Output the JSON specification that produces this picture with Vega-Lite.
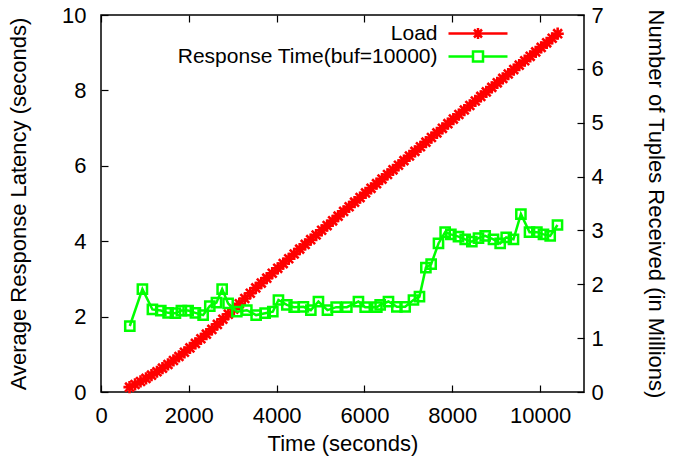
{
  "$schema": "https://vega.github.io/schema/vega-lite/v6.json",
  "width": 483,
  "height": 377,
  "autosize": "none",
  "padding": {"left": 101, "top": 15, "right": 89, "bottom": 72},
  "background": "white",
  "config": {
    "view": {"stroke": "black", "strokeWidth": 1.5},
    "font": "Liberation Sans",
    "axis": {
      "grid": false, "domain": false, "tickSize": -7, "tickColor": "black", "tickWidth": 1.2,
      "labelFontSize": 22, "titleFontSize": 22, "titleFontWeight": "normal",
      "labelColor": "black", "titleColor": "black", "labelFlush": false, "labelOverlap": false,
      "labelFont": "Liberation Sans", "titleFont": "Liberation Sans", "format": "d"
    }
  },
  "datasets": {
    "load": [
      {"time": 650, "series": "Load", "tuples": 0.09},
      {"time": 775, "series": "Load", "tuples": 0.14},
      {"time": 900, "series": "Load", "tuples": 0.195},
      {"time": 1025, "series": "Load", "tuples": 0.252},
      {"time": 1150, "series": "Load", "tuples": 0.313},
      {"time": 1275, "series": "Load", "tuples": 0.376},
      {"time": 1400, "series": "Load", "tuples": 0.442},
      {"time": 1525, "series": "Load", "tuples": 0.511},
      {"time": 1650, "series": "Load", "tuples": 0.585},
      {"time": 1775, "series": "Load", "tuples": 0.66},
      {"time": 1900, "series": "Load", "tuples": 0.738},
      {"time": 2025, "series": "Load", "tuples": 0.819},
      {"time": 2150, "series": "Load", "tuples": 0.902},
      {"time": 2275, "series": "Load", "tuples": 0.988},
      {"time": 2400, "series": "Load", "tuples": 1.074},
      {"time": 2525, "series": "Load", "tuples": 1.162},
      {"time": 2650, "series": "Load", "tuples": 1.255},
      {"time": 2775, "series": "Load", "tuples": 1.35},
      {"time": 2900, "series": "Load", "tuples": 1.445},
      {"time": 3025, "series": "Load", "tuples": 1.54},
      {"time": 3150, "series": "Load", "tuples": 1.638},
      {"time": 3275, "series": "Load", "tuples": 1.736},
      {"time": 3400, "series": "Load", "tuples": 1.834},
      {"time": 3525, "series": "Load", "tuples": 1.932},
      {"time": 3650, "series": "Load", "tuples": 2.023},
      {"time": 3775, "series": "Load", "tuples": 2.114},
      {"time": 3900, "series": "Load", "tuples": 2.205},
      {"time": 4025, "series": "Load", "tuples": 2.296},
      {"time": 4150, "series": "Load", "tuples": 2.385},
      {"time": 4275, "series": "Load", "tuples": 2.474},
      {"time": 4400, "series": "Load", "tuples": 2.563},
      {"time": 4525, "series": "Load", "tuples": 2.653},
      {"time": 4650, "series": "Load", "tuples": 2.74},
      {"time": 4775, "series": "Load", "tuples": 2.828},
      {"time": 4900, "series": "Load", "tuples": 2.915},
      {"time": 5025, "series": "Load", "tuples": 3.003},
      {"time": 5150, "series": "Load", "tuples": 3.09},
      {"time": 5275, "series": "Load", "tuples": 3.178},
      {"time": 5400, "series": "Load", "tuples": 3.265},
      {"time": 5525, "series": "Load", "tuples": 3.353},
      {"time": 5650, "series": "Load", "tuples": 3.439},
      {"time": 5775, "series": "Load", "tuples": 3.525},
      {"time": 5900, "series": "Load", "tuples": 3.61},
      {"time": 6025, "series": "Load", "tuples": 3.696},
      {"time": 6150, "series": "Load", "tuples": 3.782},
      {"time": 6275, "series": "Load", "tuples": 3.868},
      {"time": 6400, "series": "Load", "tuples": 3.953},
      {"time": 6525, "series": "Load", "tuples": 4.039},
      {"time": 6650, "series": "Load", "tuples": 4.125},
      {"time": 6775, "series": "Load", "tuples": 4.21},
      {"time": 6900, "series": "Load", "tuples": 4.296},
      {"time": 7025, "series": "Load", "tuples": 4.382},
      {"time": 7150, "series": "Load", "tuples": 4.468},
      {"time": 7275, "series": "Load", "tuples": 4.553},
      {"time": 7400, "series": "Load", "tuples": 4.639},
      {"time": 7525, "series": "Load", "tuples": 4.725},
      {"time": 7650, "series": "Load", "tuples": 4.811},
      {"time": 7775, "series": "Load", "tuples": 4.896},
      {"time": 7900, "series": "Load", "tuples": 4.982},
      {"time": 8025, "series": "Load", "tuples": 5.068},
      {"time": 8150, "series": "Load", "tuples": 5.152},
      {"time": 8275, "series": "Load", "tuples": 5.236},
      {"time": 8400, "series": "Load", "tuples": 5.32},
      {"time": 8525, "series": "Load", "tuples": 5.404},
      {"time": 8650, "series": "Load", "tuples": 5.488},
      {"time": 8775, "series": "Load", "tuples": 5.572},
      {"time": 8900, "series": "Load", "tuples": 5.656},
      {"time": 9025, "series": "Load", "tuples": 5.74},
      {"time": 9150, "series": "Load", "tuples": 5.822},
      {"time": 9275, "series": "Load", "tuples": 5.904},
      {"time": 9400, "series": "Load", "tuples": 5.986},
      {"time": 9525, "series": "Load", "tuples": 6.069},
      {"time": 9650, "series": "Load", "tuples": 6.151},
      {"time": 9775, "series": "Load", "tuples": 6.233},
      {"time": 9900, "series": "Load", "tuples": 6.315},
      {"time": 10025, "series": "Load", "tuples": 6.398},
      {"time": 10150, "series": "Load", "tuples": 6.483},
      {"time": 10275, "series": "Load", "tuples": 6.568},
      {"time": 10400, "series": "Load", "tuples": 6.653}
    ],
    "resp": [
      {"time": 656, "series": "Response Time(buf=10000)", "latency": 1.75},
      {"time": 943, "series": "Response Time(buf=10000)", "latency": 2.73},
      {"time": 1171, "series": "Response Time(buf=10000)", "latency": 2.19},
      {"time": 1362, "series": "Response Time(buf=10000)", "latency": 2.16},
      {"time": 1528, "series": "Response Time(buf=10000)", "latency": 2.1},
      {"time": 1695, "series": "Response Time(buf=10000)", "latency": 2.09},
      {"time": 1831, "series": "Response Time(buf=10000)", "latency": 2.16},
      {"time": 1984, "series": "Response Time(buf=10000)", "latency": 2.16},
      {"time": 2150, "series": "Response Time(buf=10000)", "latency": 2.1},
      {"time": 2326, "series": "Response Time(buf=10000)", "latency": 2.04},
      {"time": 2478, "series": "Response Time(buf=10000)", "latency": 2.28},
      {"time": 2629, "series": "Response Time(buf=10000)", "latency": 2.37},
      {"time": 2759, "series": "Response Time(buf=10000)", "latency": 2.73},
      {"time": 2895, "series": "Response Time(buf=10000)", "latency": 2.35},
      {"time": 3093, "series": "Response Time(buf=10000)", "latency": 2.13},
      {"time": 3321, "series": "Response Time(buf=10000)", "latency": 2.17},
      {"time": 3533, "series": "Response Time(buf=10000)", "latency": 2.04},
      {"time": 3738, "series": "Response Time(buf=10000)", "latency": 2.09},
      {"time": 3913, "series": "Response Time(buf=10000)", "latency": 2.13},
      {"time": 4041, "series": "Response Time(buf=10000)", "latency": 2.44},
      {"time": 4232, "series": "Response Time(buf=10000)", "latency": 2.31},
      {"time": 4399, "series": "Response Time(buf=10000)", "latency": 2.25},
      {"time": 4610, "series": "Response Time(buf=10000)", "latency": 2.26},
      {"time": 4779, "series": "Response Time(buf=10000)", "latency": 2.17},
      {"time": 4952, "series": "Response Time(buf=10000)", "latency": 2.4},
      {"time": 5157, "series": "Response Time(buf=10000)", "latency": 2.17},
      {"time": 5355, "series": "Response Time(buf=10000)", "latency": 2.25},
      {"time": 5599, "series": "Response Time(buf=10000)", "latency": 2.25},
      {"time": 5863, "series": "Response Time(buf=10000)", "latency": 2.4},
      {"time": 6016, "series": "Response Time(buf=10000)", "latency": 2.25},
      {"time": 6282, "series": "Response Time(buf=10000)", "latency": 2.25},
      {"time": 6358, "series": "Response Time(buf=10000)", "latency": 2.31},
      {"time": 6547, "series": "Response Time(buf=10000)", "latency": 2.4},
      {"time": 6738, "series": "Response Time(buf=10000)", "latency": 2.26},
      {"time": 6927, "series": "Response Time(buf=10000)", "latency": 2.26},
      {"time": 7116, "series": "Response Time(buf=10000)", "latency": 2.44},
      {"time": 7253, "series": "Response Time(buf=10000)", "latency": 2.53},
      {"time": 7399, "series": "Response Time(buf=10000)", "latency": 3.3},
      {"time": 7519, "series": "Response Time(buf=10000)", "latency": 3.39},
      {"time": 7686, "series": "Response Time(buf=10000)", "latency": 3.94},
      {"time": 7838, "series": "Response Time(buf=10000)", "latency": 4.24},
      {"time": 7968, "series": "Response Time(buf=10000)", "latency": 4.18},
      {"time": 8141, "series": "Response Time(buf=10000)", "latency": 4.12},
      {"time": 8294, "series": "Response Time(buf=10000)", "latency": 4.05},
      {"time": 8446, "series": "Response Time(buf=10000)", "latency": 3.99},
      {"time": 8597, "series": "Response Time(buf=10000)", "latency": 4.08},
      {"time": 8749, "series": "Response Time(buf=10000)", "latency": 4.14},
      {"time": 8938, "series": "Response Time(buf=10000)", "latency": 4.05},
      {"time": 9091, "series": "Response Time(buf=10000)", "latency": 3.94},
      {"time": 9228, "series": "Response Time(buf=10000)", "latency": 4.1},
      {"time": 9394, "series": "Response Time(buf=10000)", "latency": 4.05},
      {"time": 9563, "series": "Response Time(buf=10000)", "latency": 4.72},
      {"time": 9759, "series": "Response Time(buf=10000)", "latency": 4.24},
      {"time": 9927, "series": "Response Time(buf=10000)", "latency": 4.24},
      {"time": 10077, "series": "Response Time(buf=10000)", "latency": 4.18},
      {"time": 10230, "series": "Response Time(buf=10000)", "latency": 4.14},
      {"time": 10396, "series": "Response Time(buf=10000)", "latency": 4.43}
    ]
  },
  "layer": [
    {
      "data": {"name": "load"},
      "encoding": {
        "x": {"field": "time", "type": "quantitative", "scale": {"domain": [0, 11000], "nice": false},
          "axis": {"orient": "bottom", "values": [0, 2000, 4000, 6000, 8000, 10000], "title": "Time (seconds)", "labelPadding": 20, "titlePadding": 7}},
        "y": {"field": "tuples", "type": "quantitative", "scale": {"domain": [0, 7], "nice": false},
          "axis": {"orient": "right", "values": [0, 1, 2, 3, 4, 5, 6, 7], "title": "Number of Tuples Received (in Millions)", "labelPadding": 14, "titlePadding": 40}},
        "color": {"field": "series", "type": "nominal",
          "scale": {"domain": ["Load", "Response Time(buf=10000)"], "range": ["#ff0000", "#00ff00"]},
          "legend": {
            "orient": "none", "legendX": 366.5, "legendY": 8, "direction": "vertical", "title": null,
            "padding": 0, "symbolSize": 100, "rowPadding": 1, "labelFontSize": 21, "labelFont": "Liberation Sans",
            "labelColor": "black", "labelLimit": 500, "labelAlign": "right", "labelOffset": -51,
            "encode": {"symbols": {"update": {
              "shape": {"signal": "datum.value === 'Load' ? 'M-5.9,0H5.9M-1.1,0H1.1M0,-1.1V1.1M-0.8,-0.8L0.8,0.8M-0.8,0.8L0.8,-0.8' : 'M-5.9,0H-1M1,0H5.9M-1,-1H1V1H-1Z'"},
              "fill": {"value": "transparent"},
              "stroke": {"signal": "datum.value === 'Load' ? '#ff0000' : '#00ff00'"},
              "strokeWidth": {"value": 2.5},
              "opacity": {"value": 1}
            }}}
          }}
      },
      "layer": [
        {"mark": {"type": "line", "strokeWidth": 3.5}},
        {"mark": {"type": "point", "shape": "M-1,0H1M0,-1V1M-0.72,-0.72L0.72,0.72M-0.72,0.72L0.72,-0.72", "size": 150, "strokeWidth": 2.6, "filled": false, "opacity": 1}}
      ]
    },
    {
      "data": {"name": "resp"},
      "encoding": {
        "x": {"field": "time", "type": "quantitative", "scale": {"domain": [0, 11000], "nice": false},
          "axis": {"orient": "top", "values": [0, 2000, 4000, 6000, 8000, 10000], "labels": false, "title": null}},
        "y": {"field": "latency", "type": "quantitative", "scale": {"domain": [0, 10], "nice": false},
          "axis": {"orient": "left", "values": [0, 2, 4, 6, 8, 10], "title": "Average Response Latency (seconds)", "labelPadding": 22, "titlePadding": 31}},
        "color": {"field": "series", "type": "nominal"}
      },
      "layer": [
        {"mark": {"type": "line", "strokeWidth": 2.5}},
        {"mark": {"type": "point", "shape": "square", "size": 85, "strokeWidth": 2.5, "filled": false, "opacity": 1}}
      ]
    }
  ],
  "resolve": {"scale": {"y": "independent"}, "axis": {"x": "independent"}}
}
